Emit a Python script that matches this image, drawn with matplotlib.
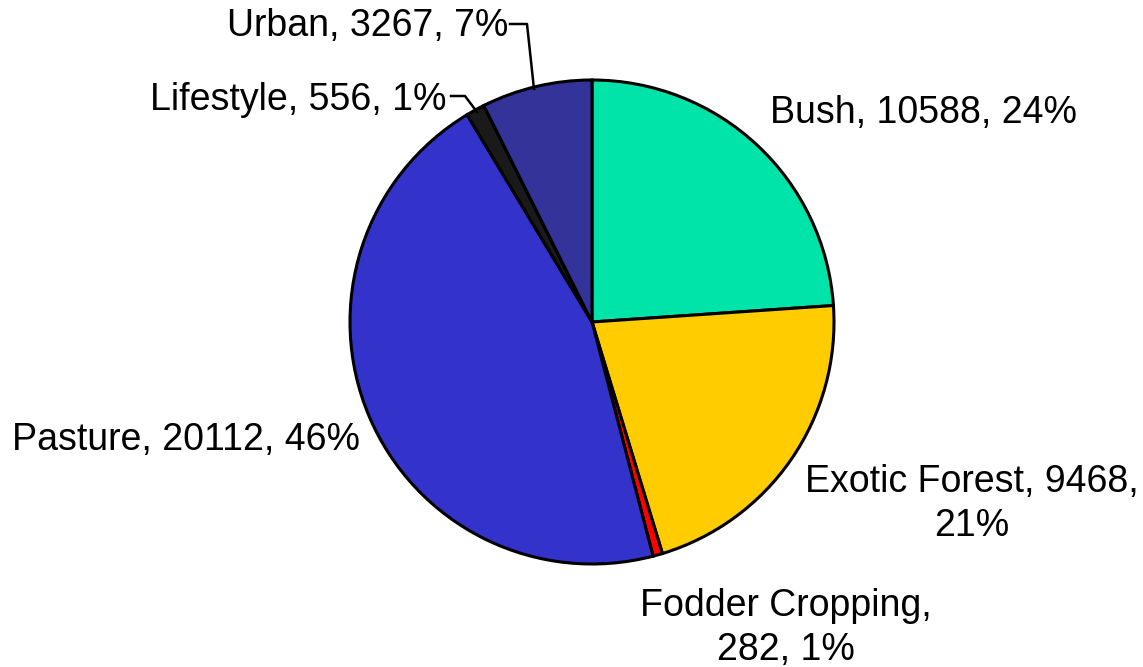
import matplotlib.pyplot as plt

labels = ['Bush', 'Exotic Forest', 'Fodder Cropping', 'Pasture', 'Lifestyle', 'Urban']
values = [10588, 9468, 282, 20112, 556, 3267]
percents = ['24%', '21%', '1%', '46%', '1%', '7%']
colors = ['#00E3A9', '#FFCC00', '#FF0000', '#3333CC', '#1A1A1A', '#333399']

W, H = 1143, 667
fig = plt.figure(figsize=(W / 100, H / 100), dpi=100)
ax = fig.add_axes([0, 0, 1, 1])
ax.set_xlim(0, W)
ax.set_ylim(0, H)
ax.set_aspect('equal')
ax.axis('off')

cx, cy, r = 592, H - 322, 242
ax.pie(values, colors=colors, startangle=90, counterclock=False,
       center=(cx, cy), radius=r,
       wedgeprops=dict(edgecolor='black', linewidth=2.2))
ax.set_xlim(0, W)
ax.set_ylim(0, H)

plt.rcParams['font.family'] = ['Liberation Sans', 'DejaVu Sans']
fs = 27

def y(p):
    return H - p

ax.text(770, y(113), f'{labels[0]}, {values[0]}, {percents[0]}', ha='left', va='center', fontsize=fs)
ax.text(972, y(504), f'{labels[1]}, {values[1]},\n{percents[1]}', ha='center', va='center',
        fontsize=fs, linespacing=1.28)
ax.text(786, y(628), f'{labels[2]},\n{values[2]}, {percents[2]}', ha='center', va='center',
        fontsize=fs, linespacing=1.28)
ax.text(12, y(440), f'{labels[3]}, {values[3]}, {percents[3]}', ha='left', va='center', fontsize=fs)
ax.text(447, y(100), f'{labels[4]}, {values[4]}, {percents[4]}', ha='right', va='center', fontsize=fs)
ax.text(508, y(26), f'{labels[5]}, {values[5]}, {percents[5]}', ha='right', va='center', fontsize=fs)

# leader lines
ax.plot([510, 527, 534], [y(24), y(24), y(89)], color='black', lw=1.8)
ax.plot([451, 465, 477], [y(96), y(96), y(112)], color='black', lw=1.8)

fig.savefig('out.png', dpi=100)
